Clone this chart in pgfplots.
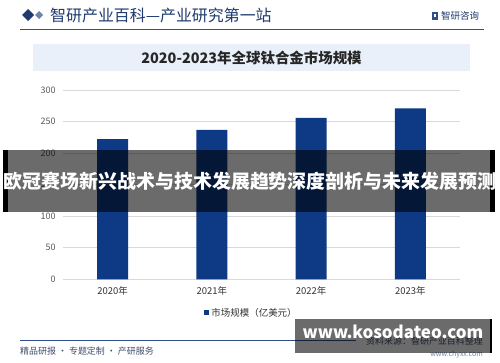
\documentclass[border=0pt]{standalone}
\usepackage{pgfplots}
\pgfplotsset{compat=1.18}
\usepackage{fontspec}
\setmainfont{Noto Sans CJK SC}
\definecolor{barblue}{RGB}{14,57,132}
\definecolor{navy}{RGB}{30,58,110}
\definecolor{linecol}{RGB}{47,79,138}
\definecolor{titlebox}{RGB}{233,240,250}
\definecolor{ticktext}{RGB}{89,89,89}
\definecolor{gridc}{RGB}{217,217,217}
\definecolor{foot}{RGB}{64,79,107}
\begin{document}
\begin{tikzpicture}[x=1bp,y=1bp]
\fill[white] (0,0) rectangle (500,362);
\useasboundingbox (0,0) rectangle (500,362);
% header
\fill[navy] (28,353) -- (34,347) -- (28,341) -- (22,347) -- cycle;
\fill[linecol!70] (39,351) -- (43,347) -- (39,343) -- (35,347) -- cycle;
\node[anchor=west,inner sep=0pt,text=navy,font=\fontsize{16}{18}\selectfont] at (50,347) {智研产业百科—产业研究第一站};
\draw[linecol,line width=0.8bp] (20,333) -- (484,333);
\fill[linecol] (432,342) rectangle (438,350);
\fill[white] (434,345) rectangle (436,348);
\node[anchor=west,inner sep=0pt,text=navy,font=\fontsize{9.5}{11}\selectfont] at (441,346) {智研咨询};
% title box
\fill[titlebox] (33,291) rectangle (470,318);
\node[inner sep=0pt,text=black!85,font=\bfseries\fontsize{14.5}{16}\selectfont] at (251.5,304.5) {2020-2023年全球钛合金市场规模};
\begin{axis}[
  at={(63bp,82.7bp)}, anchor=south west,
  scale only axis, width=397bp, height=189.3bp,
  ymin=0, ymax=300, xmin=-0.5, xmax=3.5,
  ytick={0,50,...,300},
  xtick={0,1,2,3},
  xticklabels={2020年,2021年,2022年,2023年},
  axis line style={draw=none},
  major tick length=0pt,
  ymajorgrids, grid style={gridc,line width=0.8bp},
  /pgf/number format/assume math mode=true,
  tick label style={text=ticktext,font=\fontsize{9}{10}\selectfont},
  yticklabel style={xshift=-4bp},
  xticklabel style={yshift=-4bp,text=black!80,font=\fontsize{9.5}{10}\selectfont},
  ybar, bar width=31bp,
  legend style={at={(0.475,-0.178)},anchor=center,draw=none,fill=none,
    font=\fontsize{9.5}{11}\selectfont, text=black!80},
  legend image code/.code={\fill[barblue] (0bp,-2.5bp) rectangle (5bp,2.5bp);},
]
\addplot[fill=barblue,draw=none] coordinates {(0,222) (1,237) (2,256) (3,271)};
\addlegendentry{市场规模（亿美元）}
\end{axis}
% footer
\draw[linecol,line width=0.8bp] (20,21.3) -- (356,21.3);
\node[anchor=west,inner sep=0pt,text=foot,font=\fontsize{9}{10}\selectfont] at (20,11) {精品研报 · 专题定制 · 产研服务};
\node[anchor=east,inner sep=0pt,text=foot,font=\fontsize{9}{10}\selectfont] at (483,21) {资料来源：智研产业百科整理};
\node[anchor=east,inner sep=0pt,text=linecol!70,font=\fontsize{7}{8}\selectfont] at (483,7) {www.chyxx.com};
% overlays
\fill[black,opacity=0.58] (295,9) rectangle (490,43);
\fill[black] (490,9) rectangle (491.5,43);
\node[text=white,font=\bfseries\fontsize{17}{19}\selectfont] at (393,30.3) {www.kosodateo.com};
\fill[black,opacity=0.58] (8,150.3) rectangle (490,212);
\fill[black] (3,150.3) rectangle (8,212);
\fill[black] (490,150.3) rectangle (495,212);
\node[text=white,font=\bfseries\fontsize{19}{21}\selectfont,inner sep=0pt] at (250,181) {欧冠赛场新兴战术与技术发展趋势深度剖析与未来发展预测};
\end{tikzpicture}
\end{document}
